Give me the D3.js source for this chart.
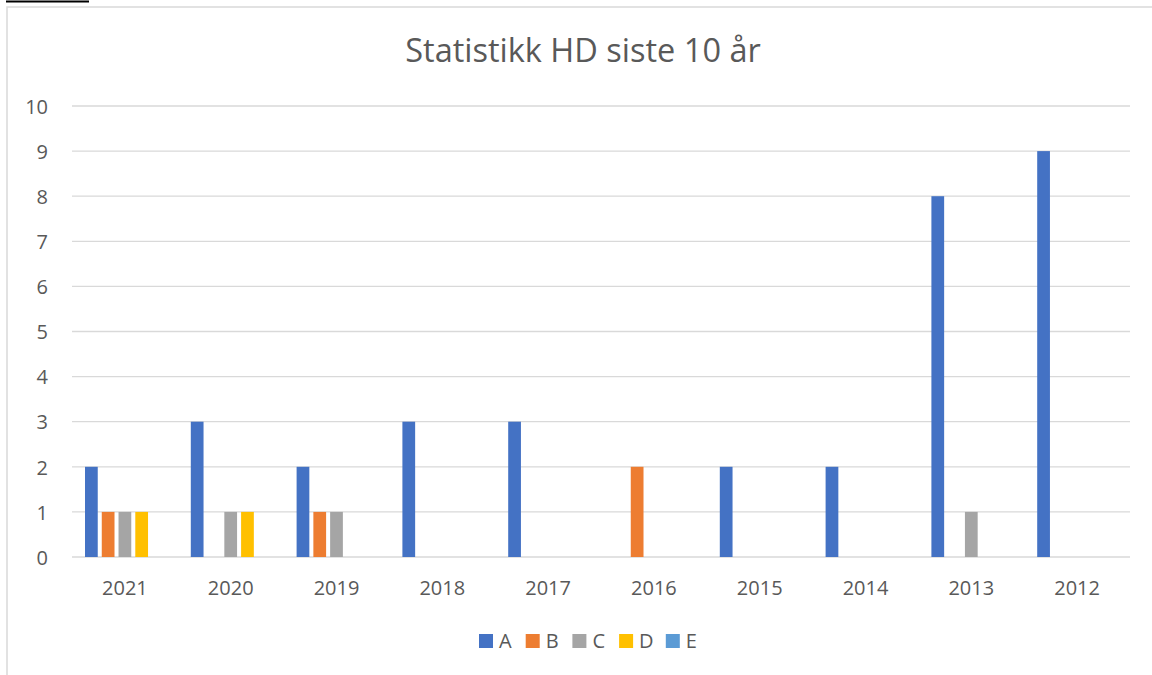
<!DOCTYPE html>
<html lang="no">
<head>
    <meta charset="UTF-8">
    <title>Statistikk HD siste 10 år</title>
    <script src="https://d3js.org/d3.v7.min.js"></script>
    <style>
        body { margin: 0; background: #fff; font-family: 'Open Sans', 'Liberation Sans', sans-serif; }
        svg { display: block; }
        .grid line { stroke: #d9d9d9; stroke-width: 1.3; }
        .axis text { fill: #595959; font-size: 20px; font-family: 'Open Sans', sans-serif; }
    </style>
</head>
<body>
    <svg width="1152" height="675"></svg>
    <script>
        var years = ["2021", "2020", "2019", "2018", "2017", "2016", "2015", "2014", "2013", "2012"];
        var seriesNames = ["A", "B", "C", "D", "E"];
        var colors = ["#4472C4", "#ED7D31", "#A5A5A5", "#FFC000", "#5B9BD5"];
        var valuesA = [2, 3, 2, 3, 3, 0, 2, 2, 8, 9];
        var valuesB = [1, 0, 1, 0, 0, 2, 0, 0, 0, 0];
        var valuesC = [1, 1, 1, 0, 0, 0, 0, 0, 1, 0];
        var valuesD = [1, 1, 0, 0, 0, 0, 0, 0, 0, 0];
        var valuesE = [0, 0, 0, 0, 0, 0, 0, 0, 0, 0];
        var yTicks = [0, 1, 2, 3, 4, 5, 6, 7, 8, 9, 10];

        function drawChart() {
            var allValues = [valuesA, valuesB, valuesC, valuesD, valuesE];
            var svg = d3.select("svg");

            // frame like the spreadsheet chart box
            svg.append("line").attr("x1", 6).attr("x2", 89).attr("y1", 1.5).attr("y2", 1.5)
                .attr("stroke", "#000").attr("stroke-width", 2);
            svg.append("rect").attr("x", 7).attr("y", 7).attr("width", 1160).attr("height", 700)
                .attr("fill", "none").attr("stroke", "#d9d9d9").attr("stroke-width", 1.5);

            var plotLeft = 72, plotRight = 1130, plotTop = 106, plotBottom = 557;

            var x = d3.scaleBand().domain(years).range([plotLeft, plotRight]);
            var y = d3.scaleLinear().domain([0, 10]).range([plotBottom, plotTop]);
            var inner = d3.scaleBand().domain(seriesNames)
                .range([13, x.bandwidth() - 13]).paddingInner(0.24);

            // gridlines
            svg.append("g").attr("class", "grid")
                .selectAll("line").data(yTicks).enter().append("line")
                .attr("x1", plotLeft).attr("x2", plotRight)
                .attr("y1", d => y(d)).attr("y2", d => y(d));

            // y axis labels
            svg.append("g").attr("class", "axis")
                .attr("transform", "translate(" + (plotLeft - 24) + ",0)")
                .call(d3.axisLeft(y).tickValues(yTicks).tickSize(0).tickPadding(0))
                .call(g => g.select(".domain").remove())
                .selectAll("text").attr("dy", "0.36em");

            // x axis labels
            svg.append("g").attr("class", "axis")
                .attr("transform", "translate(0," + (plotBottom + 38) + ")")
                .call(d3.axisBottom(x).tickSize(0).tickPadding(0))
                .call(g => g.select(".domain").remove())
                .selectAll("text").attr("dy", 0);

            // bars
            seriesNames.forEach(function(s, i) {
                svg.append("g").attr("fill", colors[i])
                    .selectAll("rect").data(allValues[i]).enter().append("rect")
                    .attr("x", (d, j) => x(years[j]) + inner(s))
                    .attr("width", inner.bandwidth())
                    .attr("y", d => y(d))
                    .attr("height", d => y(0) - y(d));
            });

            // title
            svg.append("text").attr("x", 583).attr("y", 62)
                .attr("text-anchor", "middle").attr("fill", "#595959")
                .style("font-size", "32.5px").style("font-weight", 400)
                .text("Statistikk HD siste 10 år");

            // legend
            var legend = svg.append("g").attr("transform", "translate(479,641)");
            var item = legend.selectAll("g").data(seriesNames).enter().append("g")
                .attr("transform", (d, i) => "translate(" + (i * 46.7) + ",0)");
            item.append("rect").attr("y", -7).attr("width", 14).attr("height", 14)
                .attr("fill", (d, i) => colors[i]);
            item.append("text").attr("x", 20).attr("dy", "0.36em")
                .attr("fill", "#595959").style("font-size", "20px").text(d => d);
        }

        drawChart();
    </script>
</body>
</html>
